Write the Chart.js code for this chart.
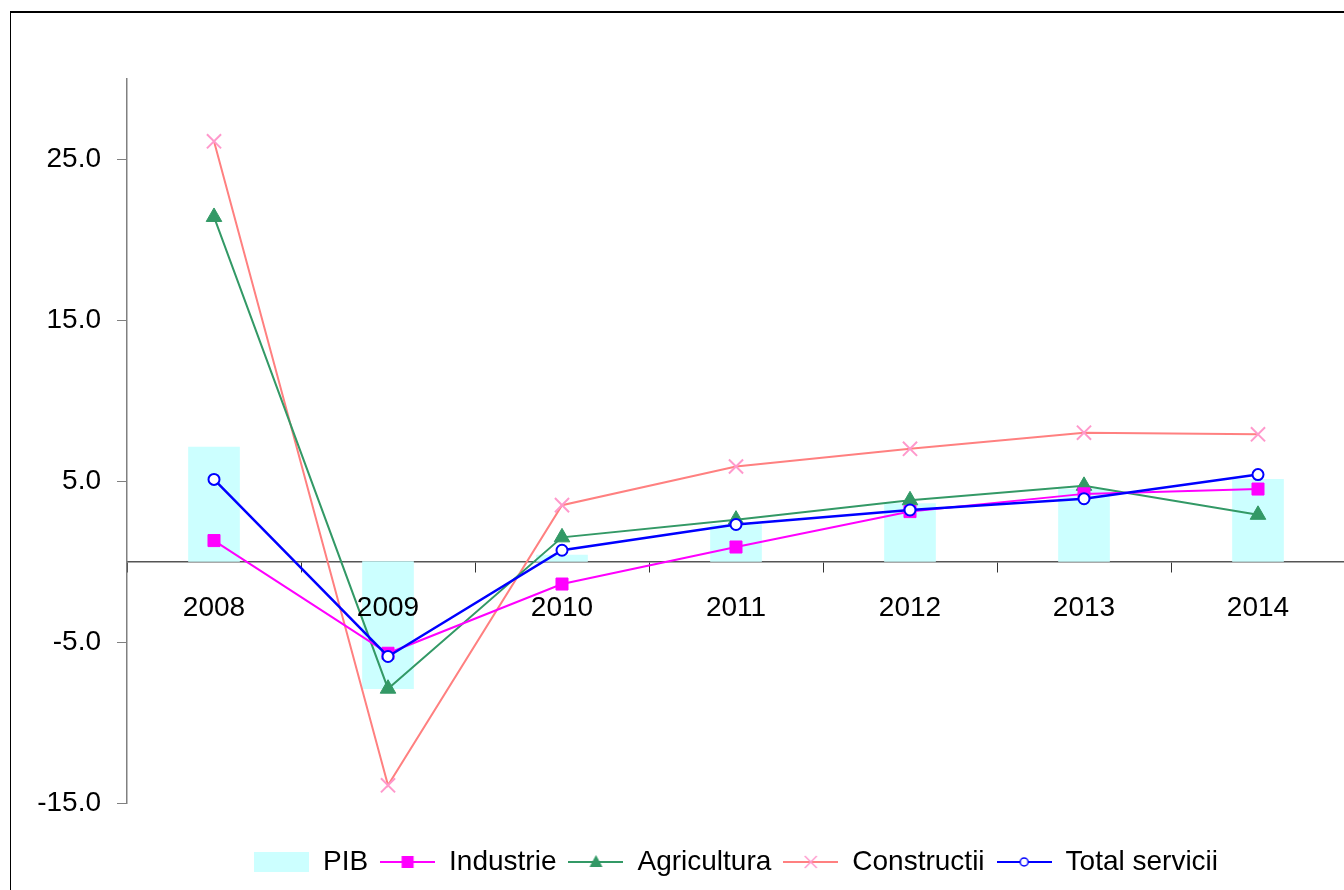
<!DOCTYPE html>
<html>
<head>
<meta charset="utf-8">
<title>PIB si ramuri</title>
<script src="https://cdn.jsdelivr.net/npm/chart.js@4.4.1/dist/chart.umd.min.js"></script>
<style>
  html, body { margin: 0; padding: 0; background: #fff; overflow: hidden; width: 1344px; height: 890px; }
  #frame { position: absolute; left: 10px; top: 11px; width: 1400px; height: 900px;
           border-left: 1px solid #000; border-top: 2px solid #000; }
  #chart { position: absolute; left: 0; top: 0; }
</style>
</head>
<body>
<div id="frame"></div>
<!-- canvas is wider than the window: the plot runs off the right edge in the original -->
<canvas id="chart" width="1358" height="890"></canvas>
<script>
// data (%)
var years = ['2008', '2009', '2010', '2011', '2012', '2013', '2014'];
var pib = [7.1, -7.9, 0.4, 2.3, 3.6, 4.5, 5.1];
var industrie = [1.3, -5.7, -1.4, 0.9, 3.1, 4.2, 4.5];
var agricultura = [21.4, -7.9, 1.5, 2.6, 3.8, 4.7, 2.9];
var constructii = [26.1, -13.9, 3.5, 5.9, 7.0, 8.0, 7.9];
var servicii = [5.1, -5.9, 0.7, 2.3, 3.2, 3.9, 5.4];
var yTicks = [-15, -5, 5, 15, 25];
var yMin = -15;
var yMax = 30;

Chart.defaults.font.family = '"Liberation Sans", Arial, sans-serif';
Chart.defaults.font.size = 28;
Chart.defaults.color = '#000';

// legend symbols: short line with the marker in the middle
function lineIcon(color, width, marker) {
    var c = document.createElement('canvas');
    c.width = 55;
    c.height = 22;
    var g = c.getContext('2d');
    g.strokeStyle = color;
    g.lineWidth = width;
    g.beginPath();
    g.moveTo(0, 11);
    g.lineTo(55, 11);
    g.stroke();
    marker(g, 27.5, 11);
    return c;
}

function boxIcon(color) {
    var c = document.createElement('canvas');
    c.width = 55;
    c.height = 20;
    var g = c.getContext('2d');
    g.fillStyle = color;
    g.fillRect(0, 0, 55, 20);
    return c;
}

var icons = [
    boxIcon('#CCFFFF'),
    lineIcon('#FF00FF', 2, function(g, x, y) {
        g.fillStyle = '#FF00FF';
        g.fillRect(x - 6, y - 6, 12, 12);
    }),
    lineIcon('#339966', 2, function(g, x, y) {
        g.fillStyle = '#339966';
        g.beginPath();
        g.moveTo(x, y - 7);
        g.lineTo(x + 6.5, y + 5);
        g.lineTo(x - 6.5, y + 5);
        g.closePath();
        g.fill();
    }),
    lineIcon('#FF8080', 2, function(g, x, y) {
        g.strokeStyle = '#FF99CC';
        g.lineWidth = 1.5;
        g.beginPath();
        g.moveTo(x - 6, y - 6); g.lineTo(x + 6, y + 6);
        g.moveTo(x + 6, y - 6); g.lineTo(x - 6, y + 6);
        g.stroke();
    }),
    lineIcon('#0000FF', 2, function(g, x, y) {
        g.fillStyle = '#fff';
        g.strokeStyle = '#0000FF';
        g.lineWidth = 1.5;
        g.beginPath();
        g.arc(x, y, 4, 0, Math.PI * 2);
        g.fill();
        g.stroke();
    })
];

var ctx = document.getElementById('chart').getContext('2d');
var chart = new Chart(ctx, {
    type: 'bar',
    data: {
        labels: years,
        datasets: [{
            type: 'bar',
            label: 'PIB',
            data: pib,
            backgroundColor: '#CCFFFF',
            borderWidth: 0,
            barThickness: 51,
            order: 2
        }, {
            type: 'line',
            label: 'Industrie',
            data: industrie,
            borderColor: '#FF00FF',
            backgroundColor: '#FF00FF',
            borderWidth: 2,
            pointStyle: 'rect',
            pointRadius: 8.5,
            pointBorderWidth: 1,
            order: 1
        }, {
            type: 'line',
            label: 'Agricultura',
            data: agricultura,
            borderColor: '#339966',
            backgroundColor: '#339966',
            borderWidth: 2,
            pointStyle: 'triangle',
            pointRadius: 9,
            pointBorderWidth: 1,
            order: 1
        }, {
            type: 'line',
            label: 'Constructii',
            data: constructii,
            borderColor: '#FF8080',
            pointBorderColor: '#FF99CC',
            backgroundColor: '#FF99CC',
            borderWidth: 2,
            pointStyle: 'crossRot',
            pointRadius: 10,
            pointBorderWidth: 2,
            order: 1
        }, {
            type: 'line',
            label: 'Total servicii',
            data: servicii,
            borderColor: '#0000FF',
            backgroundColor: '#FFFFFF',
            pointBorderColor: '#0000FF',
            borderWidth: 2.5,
            pointStyle: 'circle',
            pointRadius: 5.5,
            pointBorderWidth: 2,
            order: 0
        }]
    },
    options: {
        responsive: false,
        animation: false,
        layout: {
            padding: { left: 10, right: 13, top: 78.5, bottom: 4 }
        },
        scales: {
            x: {
                type: 'category',
                position: { y: 0 },
                offset: true,
                afterFit: function(axis) {
                    axis.paddingLeft = 0;
                    axis.paddingRight = 0;
                },
                grid: {
                    offset: true,
                    drawOnChartArea: false,
                    drawTicks: true,
                    tickLength: 10,
                    color: '#333'
                },
                border: { color: '#555', width: 1.5 },
                ticks: { z: 1, padding: 20, font: { size: 28 }, maxRotation: 0 }
            },
            y: {
                min: yMin,
                max: yMax,
                afterBuildTicks: function(axis) {
                    axis.ticks = yTicks.map(function(v) { return { value: v }; });
                },
                afterFit: function(axis) {
                    axis.width = 117;
                },
                grid: {
                    drawOnChartArea: false,
                    drawTicks: true,
                    tickLength: 10,
                    color: '#808080'
                },
                border: { color: '#808080', width: 1.5 },
                ticks: {
                    padding: 16,
                    font: { size: 28 },
                    callback: function(v) { return Number(v).toFixed(1); }
                }
            }
        },
        plugins: {
            tooltip: { enabled: false },
            legend: {
                position: 'bottom',
                fullSize: false,
                title: { display: true, text: '', font: { size: 12 }, padding: { top: 18.6, bottom: 0 } },
                labels: {
                    usePointStyle: true,
                    pointStyleWidth: 55,
                    boxHeight: 28,
                    padding: 12,
                    font: { size: 28 },
                    color: '#000',
                    sort: function(a, b) { return a.datasetIndex - b.datasetIndex; },
                    generateLabels: function(chart) {
                        var items = Chart.defaults.plugins.legend.labels.generateLabels(chart);
                        items.forEach(function(it) {
                            it.pointStyle = icons[it.datasetIndex];
                        });
                        return items;
                    }
                }
            }
        }
    }
});
</script>
</body>
</html>
